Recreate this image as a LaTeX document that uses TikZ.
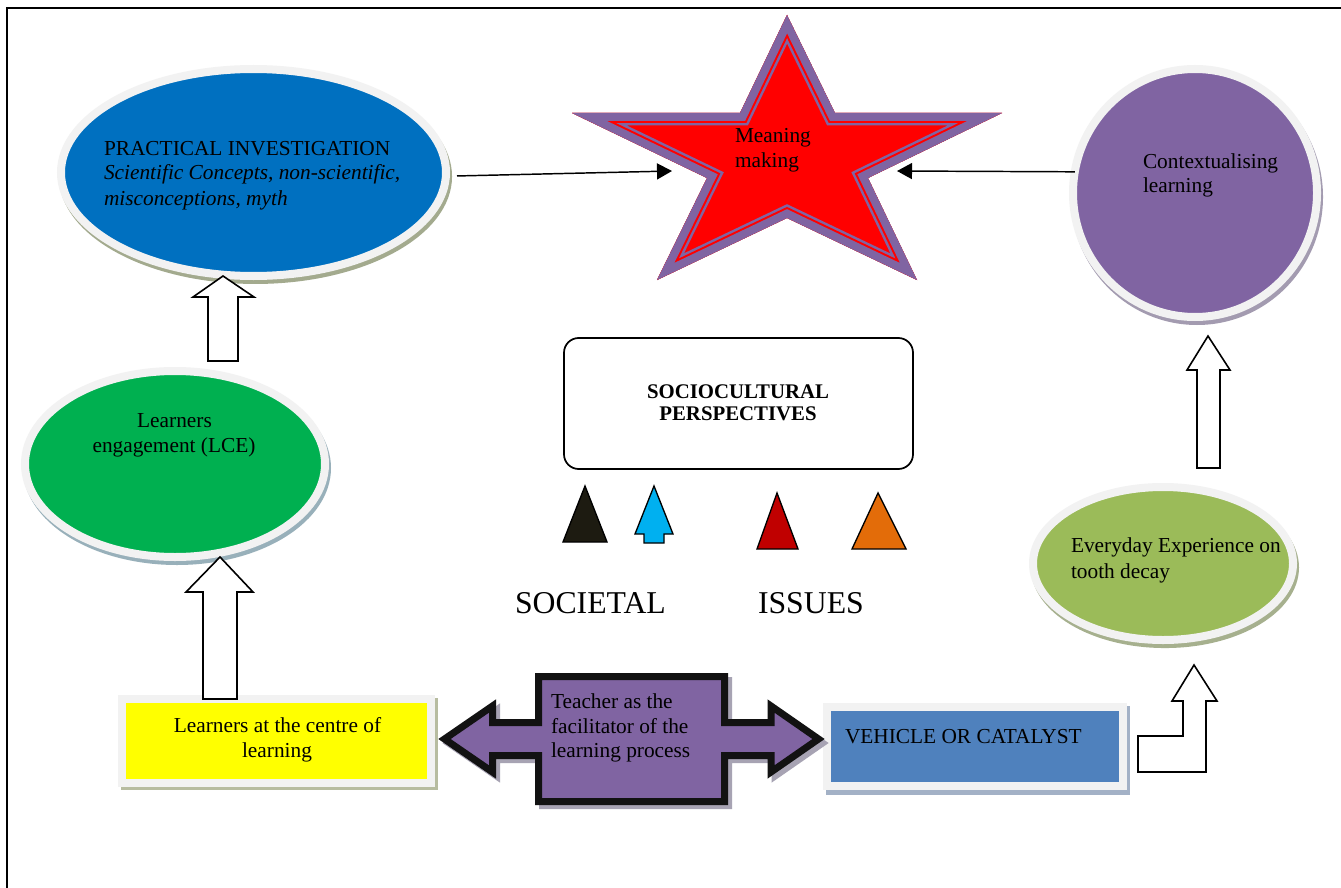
\documentclass[tikz,border=0pt]{standalone}
\usepackage{fontspec}
\setmainfont{Liberation Serif}
\usetikzlibrary{shapes.geometric,arrows.meta,calc}
\definecolor{cblue}{HTML}{0070C0}
\definecolor{cpurple}{HTML}{8064A2}
\definecolor{cgreen}{HTML}{00B050}
\definecolor{colive}{HTML}{9BBB59}
\definecolor{cyellow}{HTML}{FFFF00}
\definecolor{cvblue}{HTML}{4F81BD}
\definecolor{cring}{HTML}{F2F2F2}
\definecolor{cred}{HTML}{FF0000}
\definecolor{tblack}{HTML}{1D1B11}
\definecolor{tcyan}{HTML}{00B0F0}
\definecolor{tred}{HTML}{C00000}
\definecolor{torange}{HTML}{E36C09}
\definecolor{shblue}{HTML}{A3AA8E}
\definecolor{shgreen}{HTML}{98B0BA}
\definecolor{shpurple}{HTML}{A39BB0}
\definecolor{sholive}{HTML}{A6B08E}
\definecolor{shyellow}{HTML}{B7BCA0}
\definecolor{shvblue}{HTML}{A3B1C6}
\definecolor{shteach}{HTML}{A7A3B3}
\begin{document}
\begin{tikzpicture}[x=0.75pt,y=-0.75pt,
  ring/.style={line width=6pt, draw=cring, inner sep=0pt, outer sep=0pt},
  elnode/.style={ellipse, ring},
  boxnode/.style={rectangle, ring},
  txt/.style={inner sep=0pt, outer sep=0pt, font=\fontsize{16}{19}\selectfont},
  bigtxt/.style={inner sep=0pt, outer sep=0pt, font=\fontsize{23.8}{28}\selectfont},
  boldtxt/.style={inner sep=0pt, outer sep=0pt, font=\fontsize{15.6}{18}\selectfont\bfseries},
  blockarrow/.style={draw=black, fill=white, line width=1.2pt, line join=miter},
  tri/.style={draw=black, line width=1pt, line join=miter},
  conn/.style={line width=1.1pt, -{Triangle[length=11.25pt, width=12pt]}}
]
\useasboundingbox (0,0) rectangle (1341,888);
\fill[white] (0,0) rectangle (1341,888);
\draw[line width=1.5pt] (7,8) rectangle (1400,950);

% ellipses with ring and shadow
\fill[shblue] (255.5,176.5) ellipse [x radius=147.4pt, y radius=80.6pt];
\node[elnode, fill=cblue, minimum width=288.75pt, minimum height=155.25pt] (blue) at (253.5,172.5) {};
\fill[shgreen] (177,468) ellipse [x radius=115.5pt, y radius=72.75pt];
\node[elnode, fill=cgreen, minimum width=225pt, minimum height=139.5pt] (green) at (175,464) {};
\fill[shpurple] (1197,197) ellipse [x radius=94.5pt, y radius=96pt];
\node[elnode, fill=cpurple, minimum width=183pt, minimum height=186pt] (purple) at (1195,193) {};
\fill[sholive] (1165,567.5) ellipse [x radius=100.5pt, y radius=60.4pt];
\node[elnode, fill=colive, minimum width=195pt, minimum height=114.75pt] (olive) at (1163,563.5) {};

% boxes
\fill[shyellow] (121,698) rectangle (438,790);
\node[boxnode, fill=cyellow, minimum width=232pt, minimum height=63pt] (yellow) at (276.75,741) {};
\fill[shvblue] (826,706) rectangle (1130,795);
\node[boxnode, fill=cvblue, minimum width=222pt, minimum height=59.25pt] (vehicle) at (975,746.5) {};
\node[draw, rounded corners=11pt, line width=1.3pt, inner sep=0pt, minimum width=261.75pt, minimum height=98.25pt] (socio) at (738.5,403.5) {};

% star
\begin{scope}
\clip (787,15) -- (835,113) -- (1002,113) -- (868,178) -- (917,280) -- (787,218) -- (657,280) -- (707,178) -- (572,113) -- (740,113) -- cycle;
\fill[cred] (787,15) -- (835,113) -- (1002,113) -- (868,178) -- (917,280) -- (787,218) -- (657,280) -- (707,178) -- (572,113) -- (740,113) -- cycle;
\foreach \w/\c in {18.75/cpurple, 15/cred, 12/cpurple}{
  \draw[\c, line width=\w pt, line join=miter] (787,15) -- (835,113) -- (1002,113) -- (868,178) -- (917,280) -- (787,218) -- (657,280) -- (707,178) -- (572,113) -- (740,113) -- cycle;
}
\end{scope}
\coordinate (starL) at (672,171);
\coordinate (starR) at (897,171);

% teacher double arrow
\draw[shteach, fill=shteach, line width=5.25pt, line join=miter, shift={(4,4)}]
  (538.5,676.5) -- (724.5,676.5) -- (724.5,722.5) -- (771,722.5) -- (771,706) -- (818.5,739) -- (771,772) -- (771,755.5) -- (724.5,755.5) -- (724.5,801.5) -- (538.5,801.5) -- (538.5,755.5) -- (492.5,755.5) -- (492.5,772) -- (444.5,739) -- (492.5,706) -- (492.5,722.5) -- (538.5,722.5) -- cycle;
\draw[black!93, fill=cpurple, line width=5.25pt, line join=miter]
  (538.5,676.5) -- (724.5,676.5) -- (724.5,722.5) -- (771,722.5) -- (771,706) -- (818.5,739) -- (771,772) -- (771,755.5) -- (724.5,755.5) -- (724.5,801.5) -- (538.5,801.5) -- (538.5,755.5) -- (492.5,755.5) -- (492.5,772) -- (444.5,739) -- (492.5,706) -- (492.5,722.5) -- (538.5,722.5) -- cycle;
\coordinate (teacher) at (631.5,739);

% block arrows
\draw[blockarrow] (203,699) -- (203,592) -- (186,592) -- (220,557) -- (253,592) -- (237,592) -- (237,699) -- cycle;
\draw[blockarrow] (208,361) -- (208,297) -- (193,297) -- (223,276) -- (254,297) -- (238,297) -- (238,361) -- cycle;
\draw[blockarrow] (1197,468) -- (1197,370) -- (1187,370) -- (1208,336) -- (1230,370) -- (1220,370) -- (1220,468) -- cycle;
\draw[blockarrow] (1138,772) -- (1206,772) -- (1206,701) -- (1217,701) -- (1194,665) -- (1172,701) -- (1183,701) -- (1183,736) -- (1138,736) -- cycle;

% triangles
\filldraw[tri, fill=tblack] (585,486) -- (607,542) -- (563,542) -- cycle;
\filldraw[tri, fill=tcyan] (654,486) -- (673,534) -- (664,534) -- (664,543) -- (644,543) -- (644,534) -- (635,534) -- cycle;
\filldraw[tri, fill=tred] (777,493) -- (798,549) -- (757,549) -- cycle;
\filldraw[tri, fill=torange] (878,493) -- (906,549) -- (852,549) -- cycle;

% connectors
\draw[conn] ([xshift=8.25pt, yshift=-2.6pt]blue.east) -- (starL);
\draw[conn] (purple.170) -- (starR);

% texts
\node[txt, anchor=base west] (t1) at (104,155.5) {PRACTICAL INVESTIGATION};
\node[txt, anchor=base west] (t2) at (104,180) {\itshape Scientific Concepts, non-scientific,};
\node[txt, anchor=base west] (t3) at (104,205) {\itshape misconceptions, myth};
\node[txt, anchor=base west] (t4) at (735,143) {Meaning};
\node[txt, anchor=base west] (t5) at (735,167) {making};
\node[txt, anchor=base west] (t6) at (1143,168) {Contextualising};
\node[txt, anchor=base west] (t7) at (1143,192) {learning};
\node[txt, anchor=base] (t8) at (174.5,427) {Learners};
\node[txt, anchor=base] (t9) at (174,452) {engagement (LCE)};
\node[boldtxt, anchor=base] (t10) at (738,398) {SOCIOCULTURAL};
\node[boldtxt, anchor=base] (t11) at (738,420) {PERSPECTIVES};
\node[bigtxt, anchor=base west] (t12) at (515,613) {SOCIETAL};
\node[bigtxt, anchor=base west] (t13) at (758,613) {ISSUES};
\node[txt, anchor=base west] (t14) at (1071,552) {Everyday Experience on};
\node[txt, anchor=base west] (t15) at (1071,578) {tooth decay};
\node[txt, anchor=base] (t16) at (277.5,732) {Learners at the centre of};
\node[txt, anchor=base] (t17) at (277,757) {learning};
\node[txt, anchor=base west] (t18) at (551,708) {Teacher as the};
\node[txt, anchor=base west] (t19) at (551,733) {facilitator of the};
\node[txt, anchor=base west] (t20) at (551,757) {learning process};
\node[txt, anchor=base west] (t21) at (845,743) {VEHICLE OR CATALYST};
\end{tikzpicture}
\end{document}
